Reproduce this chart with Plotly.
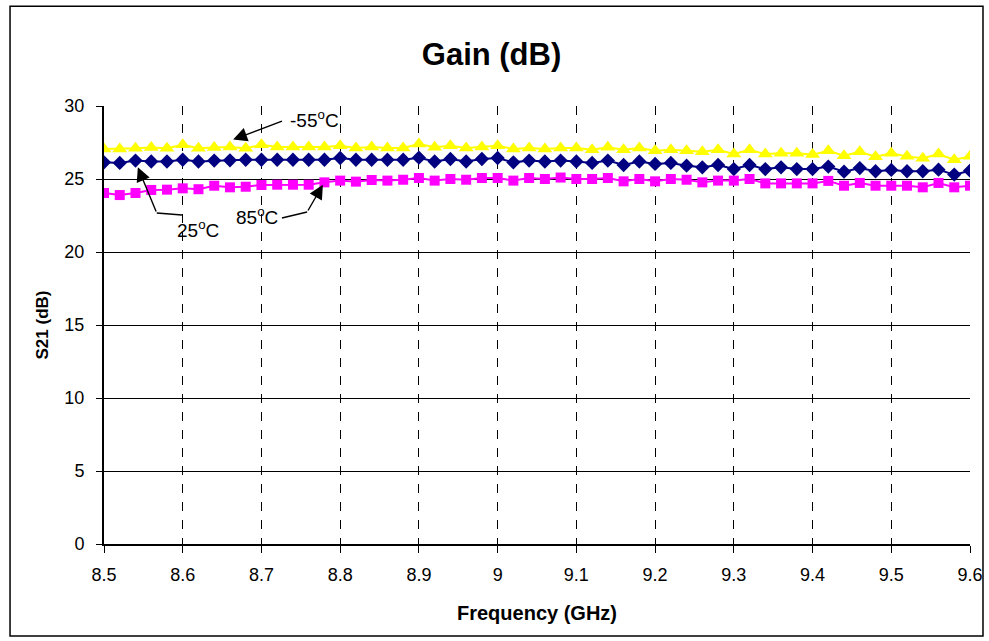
import plotly.graph_objects as go

# Frequency points (GHz), 0.02 GHz step from 8.5 to 9.6
freq_ghz = [round(8.5 + 0.02 * i, 2) for i in range(56)]

gain_m55 = [27.05, 27.05, 27.10, 27.15, 27.10, 27.35, 27.10, 27.15, 27.20, 27.10,
            27.35, 27.20, 27.20, 27.20, 27.20, 27.28, 27.12, 27.20, 27.12, 27.12,
            27.40, 27.17, 27.28, 27.12, 27.20, 27.28, 27.05, 27.12, 27.05, 27.12,
            27.12, 27.00, 27.17, 27.00, 27.12, 26.94, 27.00, 26.94, 26.87, 27.00,
            26.71, 27.00, 26.71, 26.76, 26.76, 26.67, 26.94, 26.60, 26.87, 26.53,
            26.76, 26.55, 26.42, 26.71, 26.32, 26.55]

gain_25 = [26.14, 26.10, 26.26, 26.20, 26.20, 26.32, 26.20, 26.26, 26.28, 26.32,
           26.32, 26.32, 26.32, 26.32, 26.32, 26.44, 26.32, 26.32, 26.32, 26.32,
           26.46, 26.20, 26.37, 26.20, 26.37, 26.44, 26.14, 26.26, 26.20, 26.26,
           26.20, 26.10, 26.26, 25.96, 26.20, 26.03, 26.10, 25.91, 25.80, 25.96,
           25.68, 25.96, 25.68, 25.80, 25.68, 25.68, 25.85, 25.50, 25.75, 25.53,
           25.62, 25.53, 25.53, 25.64, 25.30, 25.57]

gain_85 = [24.04, 23.90, 24.04, 24.25, 24.27, 24.36, 24.30, 24.54, 24.43, 24.47,
           24.59, 24.61, 24.61, 24.61, 24.77, 24.89, 24.82, 24.93, 24.89, 24.95,
           25.07, 24.89, 25.00, 24.95, 25.07, 25.07, 24.89, 25.07, 25.00, 25.10,
           25.00, 25.00, 25.07, 24.84, 25.00, 24.84, 25.00, 24.95, 24.77, 24.89,
           24.89, 25.00, 24.70, 24.70, 24.70, 24.70, 24.87, 24.54, 24.73, 24.54,
           24.54, 24.54, 24.43, 24.73, 24.43, 24.54]

x_ticks = [8.5, 8.6, 8.7, 8.8, 8.9, 9.0, 9.1, 9.2, 9.3, 9.4, 9.5, 9.6]
x_tick_labels = ["8.5", "8.6", "8.7", "8.8", "8.9", "9", "9.1", "9.2", "9.3", "9.4", "9.5", "9.6"]
y_ticks = [0, 5, 10, 15, 20, 25, 30]

FONT = "Liberation Sans, Arial, sans-serif"

fig = go.Figure()
fig.add_trace(go.Scatter(x=freq_ghz, y=gain_m55, mode="lines+markers", name="-55°C",
                         line=dict(color="#FFFF00", width=2),
                         marker=dict(symbol="triangle-up", size=13, color="#FFFF00")))
fig.add_trace(go.Scatter(x=freq_ghz, y=gain_25, mode="lines+markers", name="25°C",
                         line=dict(color="#000080", width=2),
                         marker=dict(symbol="diamond", size=11, color="#000080")))
fig.add_trace(go.Scatter(x=freq_ghz, y=gain_85, mode="lines+markers", name="85°C",
                         line=dict(color="#FF00FF", width=2),
                         marker=dict(symbol="square", size=10, color="#FF00FF")))

lbl_font = dict(family=FONT, size=19, color="black")
arrow_kw = dict(showarrow=True, arrowhead=2, arrowsize=2.0, arrowwidth=1.4,
                arrowcolor="black", axref="x", ayref="y", text="")

annotations = [
    # -55 C
    dict(x=8.768, y=29.1, text="-55<sup>o</sup>C", showarrow=False, font=lbl_font, xanchor="center"),
    dict(x=8.664, y=27.7, ax=8.728, ay=29.0, **arrow_kw),
    # 25 C
    dict(x=8.619, y=21.6, text="25<sup>o</sup>C", showarrow=False, font=lbl_font, xanchor="center"),
    dict(x=8.543, y=25.8, ax=8.567, ay=22.67, **arrow_kw),
    # 85 C
    dict(x=8.694, y=22.5, text="85<sup>o</sup>C", showarrow=False, font=lbl_font, xanchor="center"),
    dict(x=8.778, y=24.6, ax=8.758, ay=22.74, **arrow_kw),
]

shapes = [
    dict(type="line", xref="x", yref="y", x0=8.599, y0=22.53, x1=8.567, y1=22.67,
         line=dict(color="black", width=1.4)),
    dict(type="line", xref="x", yref="y", x0=8.726, y0=22.33, x1=8.758, y1=22.74,
         line=dict(color="black", width=1.4)),
    # outer chart border
    dict(type="rect", xref="paper", yref="paper", x0=-0.1085, x1=1.015, y0=-0.21, y1=1.228,
         line=dict(color="black", width=1.5), fillcolor="rgba(0,0,0,0)", layer="below"),
]

fig.update_layout(
    width=989, height=641,
    autosize=False,
    margin=dict(l=104, r=19, t=106, b=97, autoexpand=False),
    paper_bgcolor="white", plot_bgcolor="white",
    showlegend=False,
    font=dict(family=FONT, color="black"),
    title=dict(text="<b>Gain (dB)</b>", x=0.497, xref="container", xanchor="center",
               y=0.915, yref="container", yanchor="middle",
               font=dict(family=FONT, size=31, color="black")),
    annotations=annotations,
    shapes=shapes,
)
fig.update_xaxes(range=[8.5, 9.6], tickvals=x_ticks, ticktext=x_tick_labels,
                 automargin=False,
                 showgrid=True, gridcolor="black", gridwidth=1, griddash="dash",
                 showline=True, linecolor="black", linewidth=2,
                 ticks="outside", ticklen=7, tickcolor="black",
                 ticklabelstandoff=6,
                 tickfont=dict(family=FONT, size=18, color="black"),
                 zeroline=False,
                 title=dict(text="<b>Frequency (GHz)</b>", standoff=22,
                            font=dict(family=FONT, size=20, color="black")))
fig.update_yaxes(range=[0, 30], tickvals=y_ticks,
                 automargin=False,
                 showgrid=True, gridcolor="black", gridwidth=1,
                 showline=True, linecolor="black", linewidth=2,
                 ticks="outside", ticklen=6, tickcolor="black",
                 ticklabelstandoff=8,
                 tickfont=dict(family=FONT, size=18, color="black"),
                 zeroline=False,
                 title=dict(text="<b>S21 (dB)</b>", standoff=11,
                            font=dict(family=FONT, size=17, color="black")))

fig.write_html("out.html", config={"displayModeBar": False},
               post_script="document.body.style.margin='0';")
